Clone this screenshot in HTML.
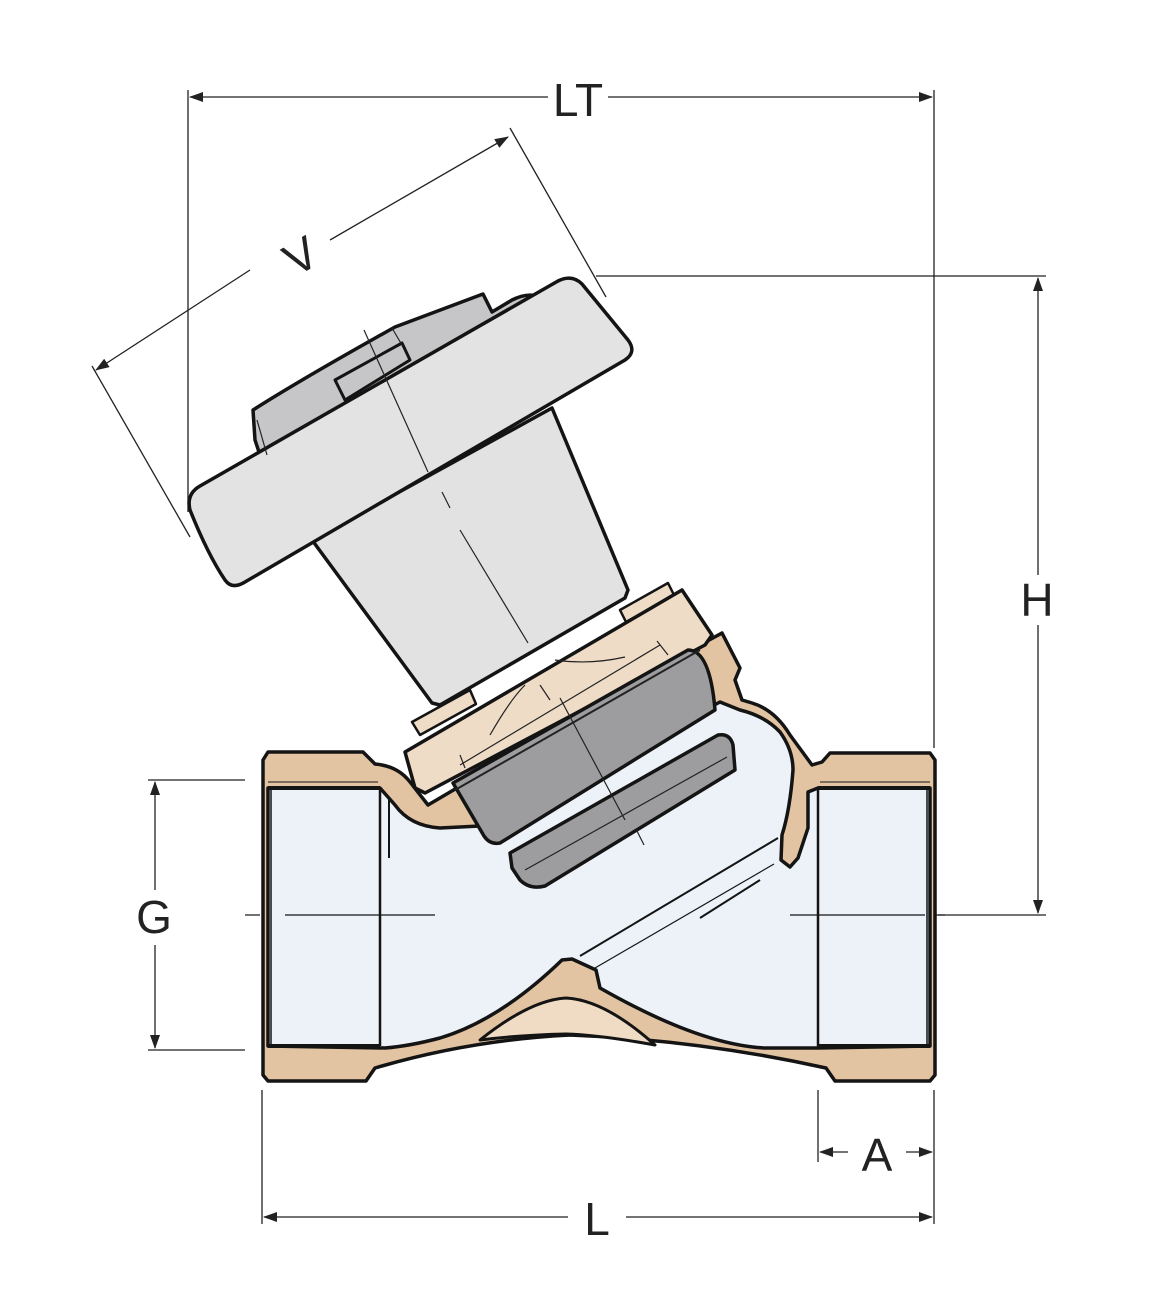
<!DOCTYPE html>
<html><head><meta charset="utf-8"><style>
html,body{margin:0;padding:0;background:#fff;}
svg{display:block;}
text{font-family:"Liberation Sans",sans-serif;fill:#222;}
</style></head><body>
<svg width="1150" height="1302" viewBox="0 0 1150 1302" xmlns="http://www.w3.org/2000/svg">
<defs>
<marker id="ar" markerWidth="14" markerHeight="10" refX="13" refY="5" orient="auto" markerUnits="userSpaceOnUse">
<path d="M0,0 L14,5 L0,10 Z" fill="#222"/></marker>
</defs>
<g stroke="#222" stroke-width="1.3" fill="none">
<line x1="188" y1="90" x2="188" y2="512"/>
<line x1="934" y1="90" x2="934" y2="748"/>
<line x1="548" y1="97" x2="190" y2="97" marker-end="url(#ar)"/>
<line x1="608" y1="97" x2="932" y2="97" marker-end="url(#ar)"/>
<line x1="596" y1="276" x2="1046" y2="276"/>
<line x1="938" y1="915" x2="1046" y2="915"/>
<line x1="1038" y1="575" x2="1038" y2="278" marker-end="url(#ar)"/>
<line x1="1038" y1="625" x2="1038" y2="913" marker-end="url(#ar)"/>
<line x1="148" y1="780" x2="245" y2="780"/>
<line x1="148" y1="1050" x2="245" y2="1050"/>
<line x1="155" y1="890" x2="155" y2="782" marker-end="url(#ar)"/>
<line x1="155" y1="945" x2="155" y2="1048" marker-end="url(#ar)"/>
<line x1="262" y1="1090" x2="262" y2="1224"/>
<line x1="934" y1="1090" x2="934" y2="1224"/>
<line x1="818" y1="1090" x2="818" y2="1162"/>
<line x1="568" y1="1217" x2="264" y2="1217" marker-end="url(#ar)"/>
<line x1="626" y1="1217" x2="932" y2="1217" marker-end="url(#ar)"/>
<line x1="848" y1="1152" x2="820" y2="1152" marker-end="url(#ar)"/>
<line x1="906" y1="1152" x2="932" y2="1152" marker-end="url(#ar)"/>
<line x1="92" y1="366" x2="190" y2="537"/>
<line x1="510" y1="128" x2="606" y2="297"/>
<line x1="250" y1="270" x2="96" y2="370" marker-end="url(#ar)"/>
<line x1="330" y1="240" x2="508" y2="137" marker-end="url(#ar)"/>
</g>
<text x="578" y="116" font-size="46" text-anchor="middle">LT</text>
<text x="1037" y="616" font-size="46" text-anchor="middle">H</text>
<text x="154" y="933" font-size="46" text-anchor="middle">G</text>
<text x="597" y="1235" font-size="46" text-anchor="middle">L</text>
<text x="877" y="1171" font-size="46" text-anchor="middle">A</text>
<text x="300" y="272" font-size="46" text-anchor="middle" transform="rotate(-30 300 255)">V</text>

<g stroke="#141414" stroke-width="3.5" stroke-linejoin="round">
<path d="M268,752 L363,752 L375,764 Q398,766 410,782 L428,805 L700,645 L722,633 L740,668 L735,680 L742,700 L752,703 Q775,710 790,735 L812,765 L822,762 L830,753 L930,753 L935,760 L935,1075 L930,1081 L835,1081 L826,1068 Q700,1040 570,1035 Q470,1040 375,1068 L366,1081 L268,1081 L263,1075 L263,760 Z" fill="#e3c4a2"/>
<path d="M480,1040 Q530,1000 566,998 Q605,1000 655,1045 Q600,1035 566,1034 Q520,1035 480,1040 Z" fill="#f0dcc4" stroke-width="3"/>
<path d="M268,788 L380,788 L395,805 Q410,826 440,828 L480,826 L720,702 L740,710 Q765,716 780,732 Q793,750 793,770 Q790,810 782,835 L781,860 L790,867 L798,858 L808,828 L808,792 L818,788 L930,788 L930,1046 L818,1048 L765,1048 Q700,1045 600,988 L596,970 L572,959 L562,960 Q500,1020 440,1038 Q410,1046 385,1048 L268,1046 Z" fill="#edf2f8"/>
</g>
<g stroke="#141414" fill="none">
<line x1="380" y1="788" x2="380" y2="1046" stroke-width="2.5"/>
<line x1="389" y1="798" x2="389" y2="858" stroke-width="2"/>
<line x1="271" y1="788" x2="271" y2="1046" stroke-width="1.5"/>
<line x1="268" y1="788" x2="380" y2="788" stroke-width="4"/>
<line x1="268" y1="1046" x2="380" y2="1046" stroke-width="4"/>
<line x1="818" y1="788" x2="818" y2="1048" stroke-width="2.5"/>
<line x1="927" y1="788" x2="927" y2="1046" stroke-width="1.5"/>
<line x1="818" y1="788" x2="930" y2="788" stroke-width="4"/>
<line x1="818" y1="1046" x2="930" y2="1046" stroke-width="4"/>
<line x1="268" y1="782" x2="378" y2="782" stroke-width="1"/>
<line x1="820" y1="782" x2="930" y2="782" stroke-width="1"/>
<line x1="580" y1="956" x2="778" y2="838" stroke-width="2"/>
<line x1="595" y1="968" x2="774" y2="864" stroke-width="1.2"/>
<line x1="700" y1="918" x2="760" y2="880" stroke-width="2"/>
<line x1="245" y1="915" x2="260" y2="915" stroke-width="1.2"/>
<line x1="285" y1="915" x2="435" y2="915" stroke-width="1.2"/>
<line x1="790" y1="915" x2="925" y2="915" stroke-width="1.2"/>
<line x1="935" y1="915" x2="945" y2="915" stroke-width="1.2"/>
</g>

<g stroke="#141414" stroke-width="3.5" stroke-linejoin="round">
<path d="M253,410 Q300,380 395,327 L483,294 L492,312 L512,300 Q528,292 540,297 L545,305 L265,470 L255,440 Z" fill="#c6c6c8"/>
<path d="M335,380 L402,343 L410,360 L345,400 Z" fill="#c6c6c8" stroke-width="3"/>
<path d="M312,540 L552,408 L628,590 L625,598 L440,705 L432,703 Z" fill="#e2e2e2"/>
<path d="M200,486 L558,281 Q572,274 582,284 L628,340 Q637,352 625,360 L245,582 Q232,590 225,580 Q208,555 190,510 Q186,494 200,486 Z" fill="#e3e3e3"/>
</g>
<g stroke="#222" fill="none" stroke-width="1.2">
<line x1="364" y1="330" x2="428" y2="472"/>
<line x1="442" y1="492" x2="450" y2="508"/>
<line x1="460" y1="530" x2="528" y2="643"/>
<line x1="392" y1="328" x2="402" y2="345"/>
<line x1="257" y1="420" x2="267" y2="455"/>
</g>

<g stroke="#141414" stroke-width="3.5" stroke-linejoin="round">
<path d="M412,722 L470,690 L476,704 L420,735 Z" fill="#efdcc6" stroke-width="2.5"/>
<path d="M620,610 L668,583 L674,595 L626,622 Z" fill="#efdcc6" stroke-width="2.5"/>
<path d="M405,752 L682,590 L712,635 L705,645 L425,793 L415,788 Z" fill="#efdcc6"/>
<path d="M453,783 L688,650 Q710,650 715,710 L500,843 Q490,845 484,836 Z" fill="#9d9d9f"/>
<path d="M510,853 L718,735 Q730,733 733,745 L735,770 L545,886 Q530,890 520,880 L512,868 Z" fill="#9d9d9f"/>
</g>
<g stroke="#222" fill="none" stroke-width="1.2">
<line x1="460" y1="765" x2="660" y2="645"/>
<line x1="460" y1="755" x2="465" y2="768"/>
<line x1="657" y1="641" x2="668" y2="655"/>
<line x1="540" y1="685" x2="550" y2="700"/>
<path d="M490,735 Q510,700 525,685"/>
<path d="M555,660 Q590,665 625,657"/>
<line x1="560" y1="698" x2="625" y2="820"/>
<line x1="636" y1="829" x2="644" y2="845"/>
<line x1="525" y1="870" x2="727" y2="757"/>
<line x1="455" y1="790" x2="700" y2="650" stroke-width="2"/>
</g>
</svg>
</body></html>
